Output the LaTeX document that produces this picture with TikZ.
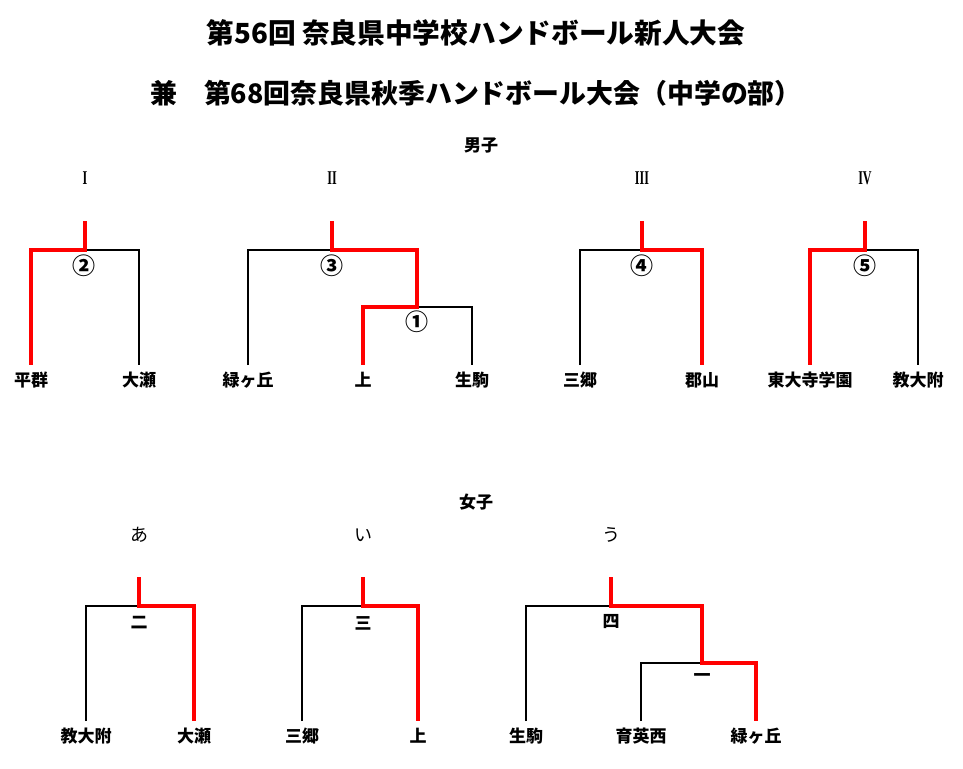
\documentclass[tikz,border=0pt]{standalone}
\usepackage{fontspec}
\setmainfont{Noto Sans CJK JP}
\newfontfamily\romfont{Liberation Serif}
\newcommand{\romnum}[1]{\scalebox{0.62}[1]{#1}}
\begin{document}
\begin{tikzpicture}[x=1pt,y=-1pt,
  win/.style={draw=red, line width=4pt, line join=miter},
  lose/.style={draw=black, line width=1.3pt},
  titleA/.style={font=\fontsize{27.7}{30}\selectfont\bfseries, inner sep=0pt},
  titleB/.style={font=\fontsize{26.9}{30}\selectfont\bfseries, inner sep=0pt},
  sec/.style={font=\fontsize{17}{20}\selectfont\bfseries, inner sep=0pt},
  team/.style={font=\fontsize{17}{20}\selectfont\bfseries, inner sep=0pt},
  rnd/.style={font=\fontsize{17}{20}\selectfont\bfseries, inner sep=0pt},
  circ/.style={font=\fontsize{23}{24}\selectfont\bfseries, inner sep=0pt},
  grp/.style={font=\fontsize{18}{20}\selectfont, inner sep=0pt},
  rom/.style={font=\romfont\fontsize{19.5}{20}\selectfont\bfseries, inner sep=0pt}
]
\useasboundingbox (0,0) rectangle (963,768);
% titles
\node[titleA] (t1) at (476,33) {第56回 奈良県中学校ハンドボール新人大会};
\node[titleB] (t2) at (476,93) {兼　第68回奈良県秋季ハンドボール大会（中学の部）};
\node[sec] (boys) at (481,145) {男子};
\node[sec] (girls) at (476,502) {女子};
% group labels
\node[rom] (gI) at (85,178) {\romnum{I}};
\node[rom] (gII) at (332,178) {\romnum{II}};
\node[rom] (gIII) at (642,178) {\romnum{III}};
\node[rom] (gIV) at (865,178) {\romnum{IV}};
\node[grp] (ga) at (139,535) {あ};
\node[grp] (gi) at (363,535) {い};
\node[grp] (gu) at (611,535) {う};
% ---------- Bracket I ----------
\coordinate (Itop) at (85,221); \coordinate (Ij) at (85,250);
\coordinate (IL) at (31,250); \coordinate (ILb) at (31,365);
\coordinate (IR) at (139,250); \coordinate (IRb) at (139,365);
\draw[lose] (Ij) -- (IR) -- (IRb);
\draw[win] (Itop) -- (Ij) -- (IL) -- (ILb);
\node[circ] (m2) at (84,266) {②};
\node[team] (heguri) at (31,380) {平群};
\node[team] (ose1) at (139,380) {大瀬};
% ---------- Bracket II ----------
\coordinate (IItop) at (332,221); \coordinate (IIj) at (332,250);
\coordinate (IIL) at (248,250); \coordinate (IILb) at (248,365);
\coordinate (IIR) at (417,250); \coordinate (IIs) at (417,307);
\coordinate (IIsL) at (363,307); \coordinate (IIsLb) at (363,365);
\coordinate (IIsR) at (472,307); \coordinate (IIsRb) at (472,365);
\draw[lose] (IILb) -- (IIL) -- (IIj);
\draw[lose] (IIs) -- (IIsR) -- (IIsRb);
\draw[win] (IItop) -- (IIj) -- (IIR) -- (IIs) -- (IIsL) -- (IIsLb);
\node[circ] (m3) at (332,266) {③};
\node[circ] (m1) at (417,322) {①};
\node[team] (midori1) at (248,380) {緑ヶ丘};
\node[team] (kami1) at (363,380) {上};
\node[team] (ikoma1) at (472,380) {生駒};
% ---------- Bracket III ----------
\coordinate (IIItop) at (642,221); \coordinate (IIIj) at (642,250);
\coordinate (IIIL) at (580,250); \coordinate (IIILb) at (580,365);
\coordinate (IIIR) at (702,250); \coordinate (IIIRb) at (702,365);
\draw[lose] (IIILb) -- (IIIL) -- (IIIj);
\draw[win] (IIItop) -- (IIIj) -- (IIIR) -- (IIIRb);
\node[circ] (m4) at (642,266) {④};
\node[team] (sango1) at (580,380) {三郷};
\node[team] (koriyama) at (702,380) {郡山};
% ---------- Bracket IV ----------
\coordinate (IVtop) at (865,221); \coordinate (IVj) at (865,250);
\coordinate (IVL) at (810,250); \coordinate (IVLb) at (810,365);
\coordinate (IVR) at (918,250); \coordinate (IVRb) at (918,365);
\draw[lose] (IVj) -- (IVR) -- (IVRb);
\draw[win] (IVtop) -- (IVj) -- (IVL) -- (IVLb);
\node[circ] (m5) at (865,266) {⑤};
\node[team] (todaiji) at (810,380) {東大寺学園};
\node[team] (kyodai1) at (918,380) {教大附};
% ---------- Girls あ ----------
\coordinate (atop) at (139,577); \coordinate (aj) at (139,606);
\coordinate (aL) at (86,606); \coordinate (aLb) at (86,721);
\coordinate (aR) at (194,606); \coordinate (aRb) at (194,721);
\draw[lose] (aLb) -- (aL) -- (aj);
\draw[win] (atop) -- (aj) -- (aR) -- (aRb);
\node[rnd] (k2) at (139,623) {二};
\node[team] (kyodai2) at (86,736) {教大附};
\node[team] (ose2) at (194,736) {大瀬};
% ---------- Girls い ----------
\coordinate (itop) at (363,577); \coordinate (ij) at (363,606);
\coordinate (iL) at (302,606); \coordinate (iLb) at (302,721);
\coordinate (iR) at (418,606); \coordinate (iRb) at (418,721);
\draw[lose] (iLb) -- (iL) -- (ij);
\draw[win] (itop) -- (ij) -- (iR) -- (iRb);
\node[rnd] (k3) at (363,623) {三};
\node[team] (sango2) at (302,736) {三郷};
\node[team] (kami2) at (418,736) {上};
% ---------- Girls う ----------
\coordinate (utop) at (611,577); \coordinate (uj) at (611,606);
\coordinate (uL) at (526,606); \coordinate (uLb) at (526,721);
\coordinate (uR) at (702,606); \coordinate (us) at (702,663);
\coordinate (usL) at (641,663); \coordinate (usLb) at (641,721);
\coordinate (usR) at (756,663); \coordinate (usRb) at (756,721);
\draw[lose] (uLb) -- (uL) -- (uj);
\draw[lose] (usLb) -- (usL) -- (us);
\draw[win] (utop) -- (uj) -- (uR) -- (us) -- (usR) -- (usRb);
\node[rnd] (k4) at (611,622) {四};
\node[rnd] (k1) at (702,678) {一};
\node[team] (ikoma2) at (526,736) {生駒};
\node[team] (ikuei) at (641,736) {育英西};
\node[team] (midori2) at (756,736) {緑ヶ丘};
\end{tikzpicture}
\end{document}
